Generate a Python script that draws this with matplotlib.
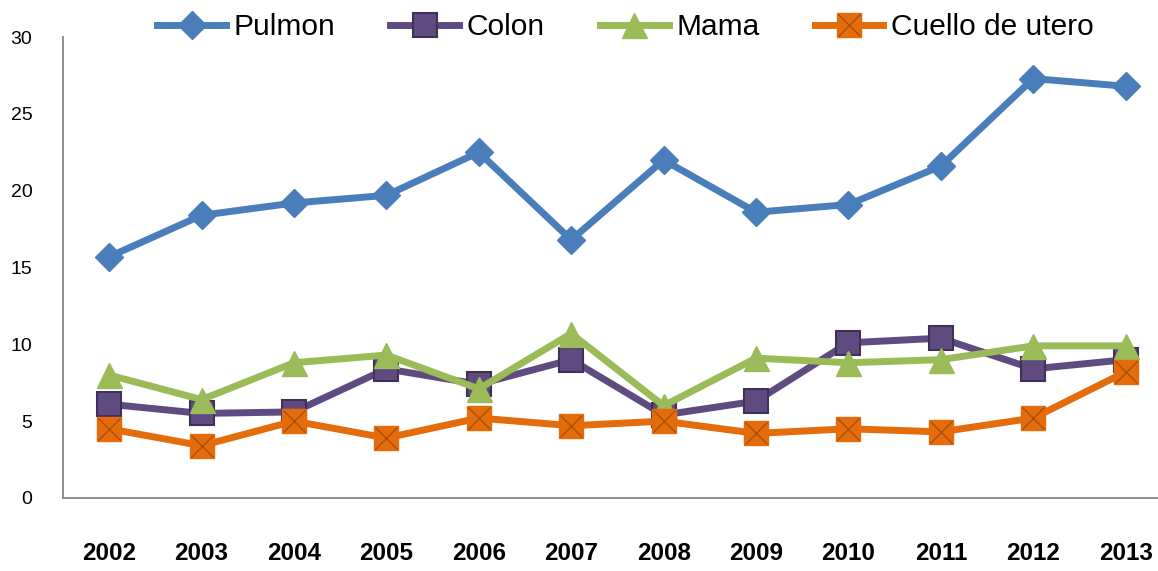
import matplotlib
matplotlib.use("Agg")
import matplotlib.pyplot as plt
from matplotlib.legend_handler import HandlerTuple

years = ["2002", "2003", "2004", "2005", "2006", "2007", "2008", "2009", "2010", "2011", "2012", "2013"]
pulmon = [15.7, 18.4, 19.2, 19.7, 22.5, 16.8, 22.0, 18.6, 19.1, 21.6, 27.3, 26.8]
colon = [6.1, 5.5, 5.6, 8.4, 7.4, 9.0, 5.4, 6.3, 10.1, 10.4, 8.4, 9.0]
mama = [8.0, 6.4, 8.8, 9.3, 7.1, 10.7, 6.0, 9.1, 8.8, 9.0, 9.9, 9.9]
cuello = [4.5, 3.4, 5.0, 3.9, 5.2, 4.7, 5.0, 4.2, 4.5, 4.3, 5.2, 8.2]
series_names = ["Pulmon", "Colon", "Mama", "Cuello de utero"]

FONT = ["Liberation Sans", "DejaVu Sans"]
plt.rcParams['font.family'] = FONT

fig = plt.figure(figsize=(11.58, 5.71), dpi=100)
ax = fig.add_axes([0.0544, 0.128, 0.9456, 0.807])
x = list(range(len(years)))

c_pul = "#4A7EBB"
c_col = "#5F4B7F"
c_mam = "#9BBB59"
c_cue = "#E46C0A"

lw = 5
h1, = ax.plot(x, pulmon, color=c_pul, lw=lw, marker="D", ms=14, mfc=c_pul, mec=c_pul, zorder=5)
h2, = ax.plot(x, colon, color=c_col, lw=lw, marker="s", ms=17, mfc=c_col, mec="#3F3157", mew=1.5, zorder=3)
h3, = ax.plot(x, mama, color=c_mam, lw=lw, marker="^", ms=18, mfc=c_mam, mec=c_mam, zorder=4)
h4, = ax.plot(x, cuello, color=c_cue, lw=lw, marker="s", ms=17, mfc=c_cue, mec=c_cue, zorder=6)
h4x, = ax.plot(x, cuello, ls="none", marker="x", ms=16, mec="#A84F08", mew=1.0, zorder=7)

ax.set_ylim(0, 30)
ax.set_xlim(-0.5, 11.35)
ax.set_yticks([0, 5, 10, 15, 20, 25, 30])
ax.set_xticks(x)
ax.set_xticklabels(years, fontsize=17.5, fontweight="bold")
ax.tick_params(axis="y", length=0, labelsize=14, pad=22)
ax.tick_params(axis="x", length=0, pad=32)
for s in ["top", "right"]:
    ax.spines[s].set_visible(False)
for s in ["left", "bottom"]:
    ax.spines[s].set_color("#868686")
    ax.spines[s].set_linewidth(1.3)

leg = fig.legend([h1, h2, h3, (h4, h4x)], series_names,
                 handler_map={tuple: HandlerTuple(ndivide=1)},
                 loc="center", bbox_to_anchor=(0.54, 0.952), ncol=4, frameon=False,
                 fontsize=21.5, handlelength=2.3, columnspacing=1.85, handletextpad=0.25,
                 markerscale=1.0)

fig.savefig("out.png", dpi=100)
